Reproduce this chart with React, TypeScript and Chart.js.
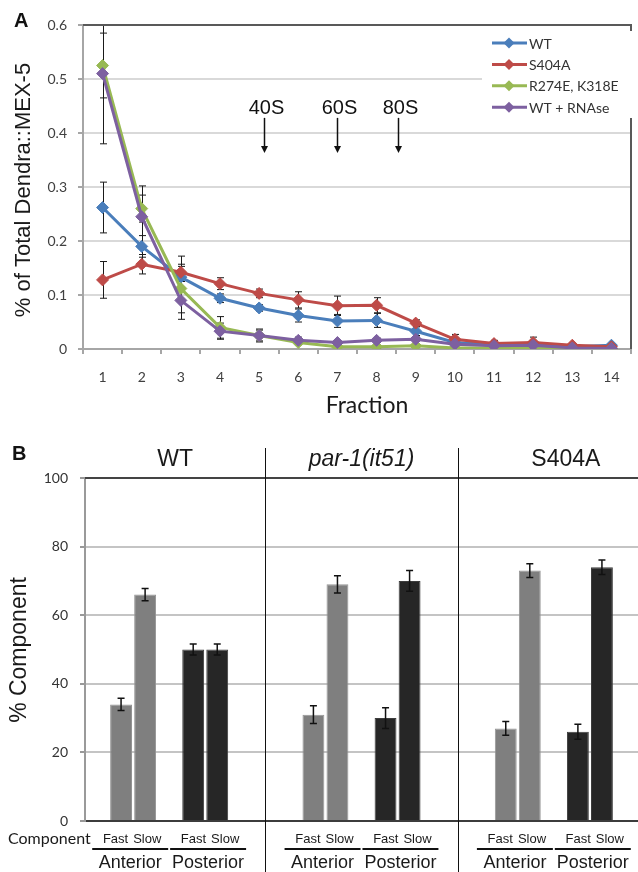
import React, { useEffect, useRef } from 'react';
import { Chart, registerables } from 'chart.js';

Chart.register(...registerables);

// ================= Panel A data =================
const fractionLabels = ['1', '2', '3', '4', '5', '6', '7', '8', '9', '10', '11', '12', '13', '14'];
const seriesNames = ['WT', 'S404A', 'R274E, K318E', 'WT + RNAse'];
const seriesColors = ['#4A7EBB', '#BE4B48', '#98B954', '#7D60A0'];

const wtValues = [0.262, 0.19, 0.133, 0.094, 0.076, 0.062, 0.052, 0.053, 0.033, 0.012, 0.008, 0.008, 0.004, 0.007];
const s404aValues = [0.128, 0.157, 0.142, 0.121, 0.103, 0.091, 0.08, 0.081, 0.048, 0.018, 0.01, 0.012, 0.007, 0.004];
const r274eValues = [0.525, 0.26, 0.112, 0.04, 0.025, 0.012, 0.004, 0.004, 0.006, 0.002, 0.002, 0.002, 0.001, 0.001];
const rnaseValues = [0.51, 0.245, 0.09, 0.033, 0.025, 0.016, 0.012, 0.016, 0.018, 0.009, 0.006, 0.007, 0.002, 0.001];

const wtErrors = [0.047, 0.02, 0.02, 0.008, 0.006, 0.012, 0.012, 0.013, 0.008, 0.004, 0.003, 0.003, 0.003, 0.003];
const s404aErrors = [0.034, 0.018, 0.03, 0.011, 0.008, 0.015, 0.018, 0.014, 0.006, 0.009, 0.006, 0.01, 0.004, 0.002];
const r274eErrors = [0.06, 0.025, 0.045, 0.02, 0.01, 0.004, 0.003, 0.003, 0.003, 0.002, 0.002, 0.002, 0.001, 0.001];
const rnaseErrors = [0.13, 0.057, 0.035, 0.015, 0.012, 0.006, 0.004, 0.004, 0.004, 0.003, 0.003, 0.003, 0.002, 0.002];

const sedimentationLabels = ['40S', '60S', '80S'];
const sedimentationFractions = [5.12, 7.0, 8.56];

// ================= Panel B data =================
const genotypes = ['WT', 'par-1(it51)', 'S404A'];
const regions = ['Anterior', 'Posterior'];
const components = ['Fast', 'Slow'];
// order: Anterior Fast, Anterior Slow, Posterior Fast, Posterior Slow
const wtComponent = [34, 66, 50, 50];
const par1Component = [31, 69, 30, 70];
const s404aComponent = [27, 73, 26, 74];
const wtComponentErr = [1.8, 1.8, 1.6, 1.6];
const par1ComponentErr = [2.6, 2.5, 3.0, 3.0];
const s404aComponentErr = [2.0, 2.0, 2.2, 2.1];

const SANS = '"Liberation Sans", Arial, sans-serif';
const CAL = 'Lato, "Open Sans", sans-serif';

function diamond(ctx: CanvasRenderingContext2D, x: number, y: number, r: number) {
  ctx.beginPath();
  ctx.moveTo(x, y - r);
  ctx.lineTo(x + r, y);
  ctx.lineTo(x, y + r);
  ctx.lineTo(x - r, y);
  ctx.closePath();
  ctx.fill();
}

const panelAPlugin = {
  id: 'panelA',
  beforeDatasetsDraw(chart: any) {
    const { ctx, chartArea, scales } = chart;
    ctx.save();
    ctx.beginPath();
    ctx.rect(chartArea.left, chartArea.top, chartArea.right - chartArea.left, chartArea.bottom - chartArea.top);
    ctx.clip();
    ctx.strokeStyle = '#1a1a1a';
    ctx.lineWidth = 1;
    chart.data.datasets.forEach((ds: any, di: number) => {
      const meta = chart.getDatasetMeta(di);
      meta.data.forEach((pt: any, j: number) => {
        const v = ds.data[j];
        const e = ds.errors[j];
        const x = Math.round(pt.x) + 0.5;
        const yt = scales.y.getPixelForValue(v + e);
        const yb = scales.y.getPixelForValue(v - e);
        ctx.beginPath();
        ctx.moveTo(x, yt);
        ctx.lineTo(x, yb);
        ctx.moveTo(x - 3.5, yt);
        ctx.lineTo(x + 3.5, yt);
        ctx.moveTo(x - 3.5, yb);
        ctx.lineTo(x + 3.5, yb);
        ctx.stroke();
      });
    });
    ctx.restore();
  },
  afterDraw(chart: any) {
    const { ctx, chartArea, scales } = chart;
    const { left, right, top, bottom } = chartArea;
    ctx.save();
    // top & right frame
    ctx.strokeStyle = '#595959';
    ctx.lineWidth = 2;
    ctx.beginPath();
    ctx.moveTo(left, top);
    ctx.lineTo(right, top);
    ctx.lineTo(right, bottom);
    ctx.stroke();

    // panel letter
    ctx.fillStyle = '#111';
    ctx.font = 'bold 20px ' + SANS;
    ctx.textAlign = 'left';
    ctx.textBaseline = 'middle';
    ctx.fillText('A', 14, 21);

    // y title
    ctx.save();
    ctx.translate(24, 190);
    ctx.rotate(-Math.PI / 2);
    ctx.font = '22px ' + SANS;
    ctx.textAlign = 'center';
    ctx.textBaseline = 'middle';
    ctx.fillStyle = '#1a1a1a';
    ctx.fillText('% of Total Dendra::MEX-5', 0, 0);
    ctx.restore();

    // x title
    ctx.font = '23px ' + CAL;
    ctx.textAlign = 'center';
    ctx.textBaseline = 'middle';
    ctx.fillStyle = '#1a1a1a';
    ctx.fillText('Fraction', 367, 406);

    // sedimentation markers
    sedimentationLabels.forEach((lab, i) => {
      const x = Math.round(scales.x.getPixelForValue(sedimentationFractions[i] - 1)) + 0.5;
      const yText = scales.y.getPixelForValue(0.446);
      const y0 = scales.y.getPixelForValue(0.428);
      const y1 = scales.y.getPixelForValue(0.363);
      ctx.fillStyle = '#111';
      ctx.font = '20px ' + SANS;
      ctx.textAlign = 'center';
      ctx.textBaseline = 'middle';
      ctx.fillText(lab, x + 2, yText);
      ctx.strokeStyle = '#111';
      ctx.lineWidth = 1.5;
      ctx.beginPath();
      ctx.moveTo(x, y0);
      ctx.lineTo(x, y1 - 5);
      ctx.stroke();
      ctx.beginPath();
      ctx.moveTo(x - 3.5, y1 - 7);
      ctx.lineTo(x + 3.5, y1 - 7);
      ctx.lineTo(x, y1);
      ctx.closePath();
      ctx.fill();
    });

    // legend
    ctx.fillStyle = '#ffffff';
    ctx.fillRect(482, 31, 150, 87);
    chart.data.datasets.forEach((ds: any, i: number) => {
      const y = 43 + i * 21.4;
      ctx.strokeStyle = ds.borderColor;
      ctx.lineWidth = 3;
      ctx.beginPath();
      ctx.moveTo(492, y);
      ctx.lineTo(527, y);
      ctx.stroke();
      ctx.fillStyle = ds.borderColor;
      diamond(ctx, 509, y, 5.5);
      ctx.fillStyle = '#333';
      ctx.font = '14px ' + CAL;
      ctx.textAlign = 'left';
      ctx.textBaseline = 'middle';
      ctx.fillText(ds.label, 529, y + 1);
    });
    ctx.restore();
  },
};

function ChartA() {
  const ref = useRef<HTMLCanvasElement>(null);
  useEffect(() => {
    const values = [wtValues, s404aValues, r274eValues, rnaseValues];
    const errors = [wtErrors, s404aErrors, r274eErrors, rnaseErrors];
    const chart = new Chart(ref.current as HTMLCanvasElement, {
      type: 'line',
      data: {
        labels: fractionLabels,
        datasets: seriesNames.map((name, i) => ({
          label: name,
          data: values[i],
          errors: errors[i],
          borderColor: seriesColors[i],
          backgroundColor: seriesColors[i],
          pointBackgroundColor: seriesColors[i],
          pointBorderColor: seriesColors[i],
          borderWidth: 3,
          pointStyle: 'rectRot',
          pointRadius: 6,
          pointBorderWidth: 1,
          tension: 0,
          order: seriesNames.length - 1 - i,
        })) as any,
      },
      options: {
        responsive: false,
        animation: false,
        layout: { padding: { top: 25, right: 3, left: 0, bottom: 0 } },
        plugins: { legend: { display: false }, tooltip: { enabled: false } },
        scales: {
          x: {
            type: 'category',
            offset: true,
            grid: { display: true, offset: true, drawOnChartArea: false, drawTicks: true, tickLength: 5, color: '#a6a6a6', lineWidth: 2 },
            border: { color: '#a6a6a6', width: 2 },
            ticks: { color: '#404040', font: { family: 'Lato', size: 14 }, padding: 15, maxRotation: 0, autoSkip: false },
            afterFit: (s: any) => { s.height = 71; },
          },
          y: {
            min: 0,
            max: 0.6,
            ticks: { stepSize: 0.1, color: '#404040', font: { family: 'Lato', size: 14 }, padding: 11 },
            grid: { color: '#d9d9d9', lineWidth: 2, tickLength: 5, tickColor: '#a6a6a6' },
            border: { color: '#a6a6a6', width: 2 },
            afterFit: (s: any) => { s.width = 83; },
          },
        },
      } as any,
      plugins: [panelAPlugin],
    });
    return () => chart.destroy();
  }, []);
  return <canvas ref={ref} width={638} height={420} style={{ width: 638, height: 420, display: 'block' }} />;
}

// ---------- build panel B slots ----------
type Slot = { label: string; value: number | null; err: number | null; region: number };
const componentValues = [wtComponent, par1Component, s404aComponent];
const componentErrors = [wtComponentErr, par1ComponentErr, s404aComponentErr];
const slots: Slot[] = [];
const dividerSlots: number[] = [];
const pairs: { g: number; r: number; center: number }[] = [];
const spacer = (): Slot => ({ label: '', value: null, err: null, region: -1 });
genotypes.forEach((_, gi) => {
  slots.push(spacer());
  regions.forEach((__, ri) => {
    pairs.push({ g: gi, r: ri, center: slots.length + 0.5 });
    components.forEach((c, ci) => {
      slots.push({ label: c, value: componentValues[gi][ri * 2 + ci], err: componentErrors[gi][ri * 2 + ci], region: ri });
    });
    slots.push(spacer());
  });
  if (gi < genotypes.length - 1) {
    dividerSlots.push(slots.length);
    slots.push(spacer());
  }
});
const regionFill = ['#7f7f7f', '#262626'];
const regionEdge = ['#959595', '#3d3d3d'];
const regionLabelShift = [-0.12, 0.12];

const panelBPlugin = {
  id: 'panelB',
  afterDatasetsDraw(chart: any) {
    const { ctx, scales } = chart;
    const meta = chart.getDatasetMeta(0);
    ctx.save();
    ctx.strokeStyle = '#111';
    ctx.lineWidth = 1.5;
    slots.forEach((s, i) => {
      if (s.value == null || s.err == null) return;
      const x = meta.data[i].x;
      const yt = scales.y.getPixelForValue(s.value + s.err);
      const yb = scales.y.getPixelForValue(s.value - s.err);
      ctx.beginPath();
      ctx.moveTo(x, yt);
      ctx.lineTo(x, yb);
      ctx.moveTo(x - 3.5, yt);
      ctx.lineTo(x + 3.5, yt);
      ctx.moveTo(x - 3.5, yb);
      ctx.lineTo(x + 3.5, yb);
      ctx.stroke();
    });
    ctx.restore();
  },
  afterDraw(chart: any) {
    const { ctx, chartArea, scales, height } = chart;
    const { left, right, top } = chartArea;
    const xs = scales.x;
    ctx.save();
    // top frame line at 100
    ctx.strokeStyle = '#444';
    ctx.lineWidth = 2;
    ctx.beginPath();
    ctx.moveTo(left, top);
    ctx.lineTo(right, top);
    ctx.stroke();

    // dividers
    ctx.strokeStyle = '#111';
    ctx.lineWidth = 1;
    dividerSlots.forEach((d) => {
      const x = Math.round(xs.getPixelForValue(d)) + 0.5;
      ctx.beginPath();
      ctx.moveTo(x, 28);
      ctx.lineTo(x, height);
      ctx.stroke();
    });

    // genotype titles
    const edges = [-0.5, ...dividerSlots, slots.length + 1];
    genotypes.forEach((g, gi) => {
      const c = (edges[gi] + edges[gi + 1]) / 2;
      ctx.font = (gi === 1 ? 'italic ' : '') + '23px ' + SANS;
      ctx.fillStyle = '#1a1a1a';
      ctx.textAlign = 'center';
      ctx.textBaseline = 'middle';
      ctx.fillText(g, xs.getPixelForValue(c), 40);
    });

    // component labels, region underlines and names
    pairs.forEach((p) => {
      const c = p.center + regionLabelShift[p.r];
      const cx = xs.getPixelForValue(c);
      ctx.fillStyle = '#1a1a1a';
      ctx.font = '13px ' + SANS;
      ctx.textBaseline = 'middle';
      ctx.textAlign = 'right';
      ctx.fillText(components[0], cx - 2, 419);
      ctx.textAlign = 'left';
      ctx.fillText(components[1], cx + 3, 419);

      const x0 = xs.getPixelForValue(c - 1.58);
      const x1 = xs.getPixelForValue(c + 1.58);
      ctx.strokeStyle = '#111';
      ctx.lineWidth = 2;
      ctx.beginPath();
      ctx.moveTo(x0, 429);
      ctx.lineTo(x1, 429);
      ctx.stroke();
      ctx.fillStyle = '#1a1a1a';
      ctx.font = '18px ' + SANS;
      ctx.textAlign = 'center';
      ctx.textBaseline = 'middle';
      ctx.fillText(regions[p.r], (x0 + x1) / 2, 443);
    });

    // Component label
    ctx.fillStyle = '#1a1a1a';
    ctx.font = '16px ' + CAL;
    ctx.textAlign = 'left';
    ctx.textBaseline = 'middle';
    ctx.fillText('Component', 8, 419);

    // panel letter
    ctx.font = 'bold 20px ' + SANS;
    ctx.fillStyle = '#111';
    ctx.fillText('B', 12, 34);

    // y title
    ctx.save();
    ctx.translate(20, 230);
    ctx.rotate(-Math.PI / 2);
    ctx.font = '23px ' + SANS;
    ctx.textAlign = 'center';
    ctx.textBaseline = 'middle';
    ctx.fillStyle = '#1a1a1a';
    ctx.fillText('% Component', 0, 0);
    ctx.restore();
    ctx.restore();
  },
};

function ChartB() {
  const ref = useRef<HTMLCanvasElement>(null);
  useEffect(() => {
    const chart = new Chart(ref.current as HTMLCanvasElement, {
      type: 'bar',
      data: {
        labels: slots.map((s) => s.label),
        datasets: [
          {
            data: slots.map((s) => s.value),
            backgroundColor: slots.map((s) => (s.region >= 0 ? regionFill[s.region] : 'transparent')),
            borderColor: slots.map((s) => (s.region >= 0 ? regionEdge[s.region] : 'transparent')),
            borderWidth: 1,
            barPercentage: 0.91,
            categoryPercentage: 1.0,
          },
        ] as any,
      },
      options: {
        responsive: false,
        animation: false,
        layout: { padding: { top: 58, right: 0, left: 0, bottom: 0 } },
        plugins: { legend: { display: false }, tooltip: { enabled: false } },
        scales: {
          x: {
            type: 'category',
            grid: { display: false, drawTicks: false },
            border: { color: '#3c3c3c', width: 2 },
            ticks: { display: false },
            afterFit: (s: any) => { s.height = 51; },
          },
          y: {
            min: 0,
            max: 100,
            ticks: { stepSize: 20, color: '#333', font: { family: 'Lato', size: 14 }, padding: 12 },
            grid: { color: '#c4c4c4', lineWidth: 2, tickLength: 5, tickColor: '#999' },
            border: { color: '#9a9a9a', width: 2 },
            afterFit: (s: any) => { s.width = 85; },
          },
        },
      } as any,
      plugins: [panelBPlugin],
    });
    return () => chart.destroy();
  }, []);
  return <canvas ref={ref} width={638} height={452} style={{ width: 638, height: 452, display: 'block' }} />;
}

export default function App() {
  return (
    <div style={{ position: 'absolute', left: 0, top: 0, width: 638, height: 872, overflow: 'hidden', background: '#fff' }}>
      <ChartA />
      <ChartB />
    </div>
  );
}
